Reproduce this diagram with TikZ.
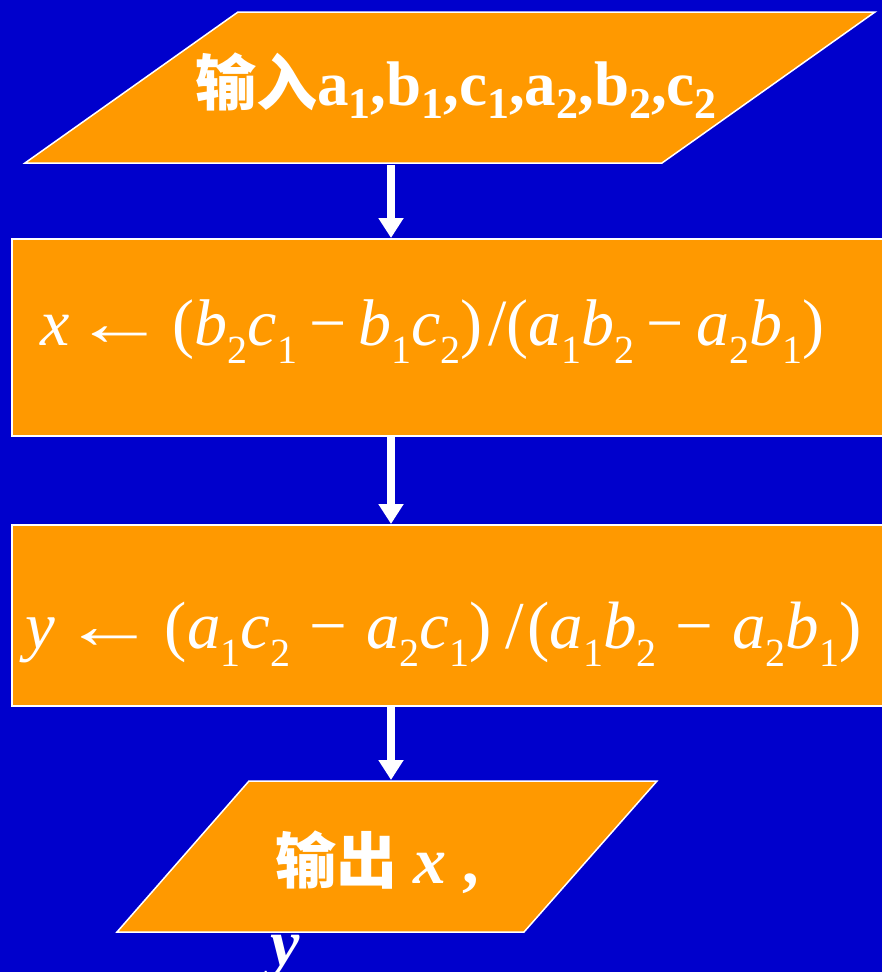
\documentclass[tikz,border=0pt]{standalone}
\usepackage{fontspec}
\setmainfont{Liberation Serif}
\newfontfamily\cjk{Noto Sans CJK SC}
\usetikzlibrary{arrows.meta}
\definecolor{bg}{RGB}{0,0,204}
\definecolor{org}{RGB}{255,153,0}
\newcommand\subA[1]{\raisebox{-13pt}{\fontsize{44}{44}\selectfont #1}}
\newcommand\subB[1]{\raisebox{-18pt}{\fontsize{40}{40}\selectfont #1}}
\newcommand\mi[1]{\textit{#1}}
\newcommand\larr{\scalebox{1.4}[1]{←}}
\begin{document}
\begin{tikzpicture}[x=1pt,y=-1pt,
  shapebox/.style={fill=org,draw=white,line width=1.5pt},
  rectbox/.style={shapebox,rectangle,inner sep=0pt,anchor=north west},
  flow/.style={draw=white,line width=8pt,-{Triangle[width=24pt,length=20pt]}},
  txt/.style={text=white,inner sep=0pt,anchor=base west}]
\useasboundingbox (0,0) rectangle (882,972);
\fill[bg] (0,0) rectangle (882,972);
\clip (0,0) rectangle (882,972);
% input parallelogram
\draw[shapebox] (25,163) -- (238,12) -- (875,12) -- (662,163) -- cycle;
\coordinate (inb) at (391,165);
% process boxes
\node[rectbox,minimum width=900pt,minimum height=197pt] (r1) at (11,238) {};
\node[rectbox,minimum width=900pt,minimum height=181pt] (r2) at (11,524) {};
% output parallelogram
\draw[shapebox] (117,932) -- (249,781) -- (657,781) -- (524,932) -- cycle;
\coordinate (outt) at (391,780);
% connectors
\draw[flow] (inb) -- (r1.north -| inb);
\draw[flow] (r1.south -| inb) -- (r2.north -| inb);
\draw[flow] (r2.south -| inb) -- (outt);
% texts
\node[txt] (t1) at (195,105) {\fontsize{61}{72}\selectfont{\cjk\bfseries 输入}\bfseries\fontsize{63}{72}\selectfont a\subA{1},b\subA{1},c\subA{1},a\subA{2},b\subA{2},c\subA{2}};
\node[txt] (t2) at (40,345) {\fontsize{66}{72}\selectfont \mi{x}\hspace{4pt}\larr\hspace{7pt}(\mi{b}\subB{2}\mi{c}\subB{1}\hspace{12pt}−\hspace{12pt}\mi{b}\subB{1}\mi{c}\subB{2})\hspace{6pt}/(\mi{a}\subB{1}\mi{b}\subB{2}\hspace{12pt}−\hspace{12pt}\mi{a}\subB{2}\mi{b}\subB{1})};
\node[txt] (t3) at (25,648) {\fontsize{67}{72}\selectfont \mi{y}\hspace{8pt}\larr\hspace{8pt}(\mi{a}\subB{1}\mi{c}\subB{2}\hspace{19pt}−\hspace{19pt}\mi{a}\subB{2}\mi{c}\subB{1})\hspace{14pt}/\hspace{3pt}(\mi{a}\subB{1}\mi{b}\subB{2}\hspace{19pt}−\hspace{19pt}\mi{a}\subB{2}\mi{b}\subB{1})};
\node[txt] (t4) at (275,883) {\fontsize{61}{72}\selectfont{\cjk\bfseries 输出}\hspace{16pt}\fontsize{66}{72}\selectfont\textbf{\textit{x}}\hspace{16pt}\textbf{,}};
\node[txt] (t5) at (270,965) {\fontsize{66}{72}\selectfont\textbf{\textit{y}}};
\end{tikzpicture}
\end{document}
